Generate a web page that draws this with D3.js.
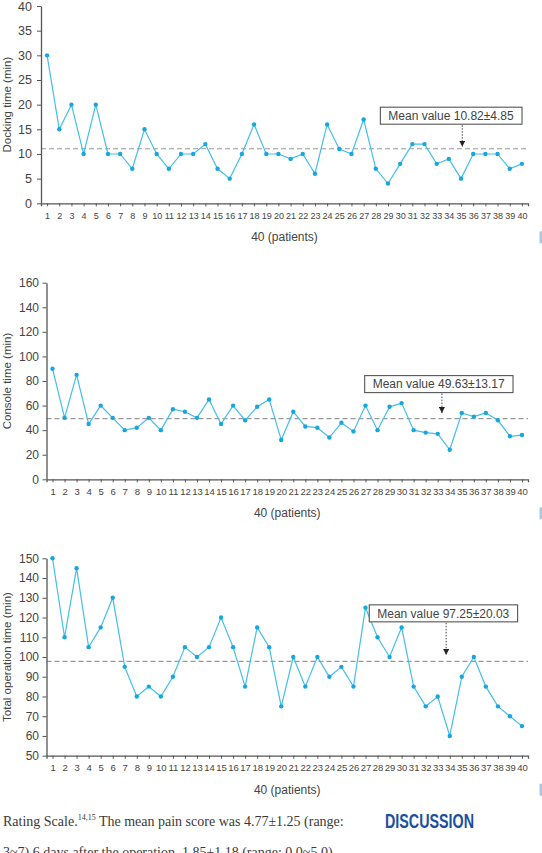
<!DOCTYPE html>
<html>
<head>
<meta charset="utf-8">
<script src="https://cdn.jsdelivr.net/npm/d3@7"></script>
<style>
  html, body { margin: 0; padding: 0; background: #fff; }
  svg { display: block; }
  .axis text { fill: #444; font-family: "Liberation Sans", Arial, sans-serif; }
  .axis path, .axis line { stroke: #555; }
</style>
</head>
<body>
<svg id="chart" width="542" height="853"></svg>
<script>
// ---------- DATA ----------
const patients = d3.range(1, 41);

const dockingTime = [30, 15, 20, 10, 20, 10, 10, 7, 15, 10,
                     7, 10, 10, 12, 7, 5, 10, 16, 10, 10,
                     9, 10, 6, 16, 11, 10, 17, 7, 4, 8,
                     12, 12, 8, 9, 5, 10, 10, 10, 7, 8];

const consoleTime = [90, 50, 85, 45, 60, 50, 40, 42, 50, 40,
                     57, 55, 50, 65, 45, 60, 48, 59, 65, 32,
                     55, 43, 42, 34, 46, 39, 60, 40, 59, 62,
                     40, 38, 37, 24, 54, 51, 54, 48, 35, 36];

const totalTime = [150, 110, 145, 105, 115, 130, 95, 80, 85, 80,
                   90, 105, 100, 105, 120, 105, 85, 115, 105, 75,
                   100, 85, 100, 90, 95, 85, 125, 110, 100, 115,
                   85, 75, 80, 60, 90, 100, 85, 75, 70, 65];

const meanLines = [11.07, 49.4, 97.8];
const meanLabels = ["Mean value 10.82±4.85", "Mean value 49.63±13.17", "Mean value 97.25±20.03"];
const yTitles = ["Docking time (min)", "Console time (min)", "Total operation time (min)"];
const xTitle = "40 (patients)";
const yDomains = [[0, 40], [0, 160], [50, 150]];
const yTickValues = [d3.range(0, 41, 5), d3.range(0, 161, 20), d3.range(50, 151, 10)];
const arrowAt = [35.1, 33.35, 33.7];   // patient index where the mean arrow points

// ---------- LAYOUT ----------
const layouts = [
  { x0: 41,   x1: 528, yTop: 6,     yBot: 203.3, yFont: 12.5, xFont: 9,   yPad: 5,   boxGap: 24.5, tipGap: 2,   boxRight: 521.7 },
  { x0: 46.5, x1: 528, yTop: 282.7, yBot: 479.3, yFont: 12,   xFont: 9.5, yPad: 3.5, boxGap: 26,   tipGap: 5.5, boxRight: 512.7 },
  { x0: 46.5, x1: 528, yTop: 558.3, yBot: 755.7, yFont: 12,   xFont: 9.5, yPad: 3.5, boxGap: 39.5, tipGap: 6.3, boxRight: 517.3 }
];
const series = [dockingTime, consoleTime, totalTime];

const svg = d3.select("#chart");
const LINE = "#43bfea";
const DOT = "#19a6de";
const FONT = "'Liberation Sans', Arial, sans-serif";

// arrow marker
const defs = svg.append("defs");
defs.append("marker")
  .attr("id", "arrowhead")
  .attr("viewBox", "0 0 10 10")
  .attr("refX", 10).attr("refY", 5)
  .attr("markerWidth", 6).attr("markerHeight", 6)
  .attr("markerUnits", "userSpaceOnUse")
  .attr("orient", "auto")
  .append("path").attr("d", "M0,0 L10,5 L0,10 Z").attr("fill", "#222");

series.forEach((vals, i) => {
  const L = layouts[i];
  const g = svg.append("g");
  const x = d3.scalePoint().domain(patients).range([L.x0, L.x1]).padding(0.5);
  const y = d3.scaleLinear().domain(yDomains[i]).range([L.yBot, L.yTop]);

  // mean dashed line
  g.append("line")
    .attr("x1", L.x0).attr("x2", L.x1)
    .attr("y1", y(meanLines[i])).attr("y2", y(meanLines[i]))
    .attr("stroke", "#9a9a9a").attr("stroke-width", 1.1)
    .attr("stroke-dasharray", "5,3");

  // x axis
  const xa = g.append("g").attr("class", "axis")
    .attr("transform", `translate(0,${L.yBot})`)
    .call(d3.axisBottom(x).tickSize(3).tickSizeOuter(3).tickPadding(6));
  xa.selectAll("text").attr("font-size", L.xFont).attr("font-family", FONT);
  xa.select(".domain").attr("stroke-width", 1.3);

  // y axis
  const ya = g.append("g").attr("class", "axis")
    .attr("transform", `translate(${L.x0},0)`)
    .call(d3.axisLeft(y).tickValues(yTickValues[i]).tickSize(4).tickSizeOuter(0).tickPadding(L.yPad));
  ya.selectAll("text").attr("font-size", L.yFont).attr("font-family", FONT);
  ya.select(".domain").attr("stroke-width", 1.3);

  // line
  g.append("path")
    .datum(vals)
    .attr("fill", "none")
    .attr("stroke", LINE)
    .attr("stroke-width", 1.2)
    .attr("d", d3.line().x((d, j) => x(patients[j])).y(d => y(d)));

  // points
  g.selectAll("circle.pt").data(vals).enter().append("circle")
    .attr("class", "pt")
    .attr("cx", (d, j) => x(patients[j]))
    .attr("cy", d => y(d))
    .attr("r", 2.2)
    .attr("fill", DOT);

  // y title
  g.append("text")
    .attr("transform", `translate(11,${(L.yTop + L.yBot) / 2}) rotate(-90)`)
    .attr("text-anchor", "middle")
    .attr("font-family", FONT).attr("font-size", 11.5).attr("fill", "#444")
    .text(yTitles[i]);

  // x title
  g.append("text")
    .attr("x", (L.x0 + L.x1) / 2).attr("y", L.yBot + 38)
    .attr("text-anchor", "middle")
    .attr("font-family", FONT).attr("font-size", 12).attr("fill", "#444")
    .text(xTitle);

  // mean box
  const meanY = y(meanLines[i]);
  const boxBottom = meanY - L.boxGap;
  const boxH = 17;
  const bg = g.append("g");
  const t = bg.append("text")
    .attr("font-family", FONT).attr("font-size", 12).attr("fill", "#444")
    .attr("text-anchor", "end")
    .attr("x", L.boxRight - 8)
    .attr("y", boxBottom - boxH / 2 + 4.3)
    .text(meanLabels[i]);
  const bb = t.node().getBBox();
  bg.insert("rect", ":first-child")
    .attr("x", bb.x - 8).attr("y", boxBottom - boxH)
    .attr("width", bb.width + 16).attr("height", boxH)
    .attr("fill", "#fff").attr("stroke", "#555").attr("stroke-width", 1.1);

  // dotted arrow
  const ax = L.x0 + (x(2) - x(1)) * (arrowAt[i] - 0.5);
  g.append("line")
    .attr("x1", ax).attr("x2", ax)
    .attr("y1", boxBottom + 1).attr("y2", meanY - L.tipGap)
    .attr("stroke", "#444").attr("stroke-width", 1)
    .attr("stroke-dasharray", "1.5,1.5")
    .attr("marker-end", "url(#arrowhead)");

  // small blue page mark at right edge
  g.append("rect")
    .attr("x", 539.5).attr("y", L.yBot + 28).attr("width", 3).attr("height", 12)
    .attr("fill", "#a9c8e8");
});

// ---------- bottom body text ----------
const body = svg.append("text")
  .attr("x", 3).attr("y", 826)
  .attr("font-family", "'Liberation Serif', 'Times New Roman', serif")
  .attr("font-size", 14).attr("fill", "#3a3a3a");
body.append("tspan").text("Rating Scale.");
body.append("tspan").attr("font-size", 8).attr("dy", -6).text("14,15");
body.append("tspan").attr("dy", 6).text(" The mean pain score was 4.77±1.25 (range:");

svg.append("text")
  .attr("x", 3).attr("y", 857)
  .attr("font-family", "'Liberation Serif', 'Times New Roman', serif")
  .attr("font-size", 14).attr("fill", "#3a3a3a")
  .text("3~7) 6 days after the operation, 1.85±1.18 (range: 0.0~5.0)");

svg.append("text")
  .attr("x", 385).attr("y", 828)
  .attr("font-family", "'Liberation Sans Narrow', 'Liberation Sans', Arial, sans-serif")
  .attr("font-weight", "bold").attr("font-size", 21)
  .attr("fill", "#1c4f9c")
  .attr("textLength", 89).attr("lengthAdjust", "spacingAndGlyphs")
  .text("DISCUSSION");
</script>
</body>
</html>
